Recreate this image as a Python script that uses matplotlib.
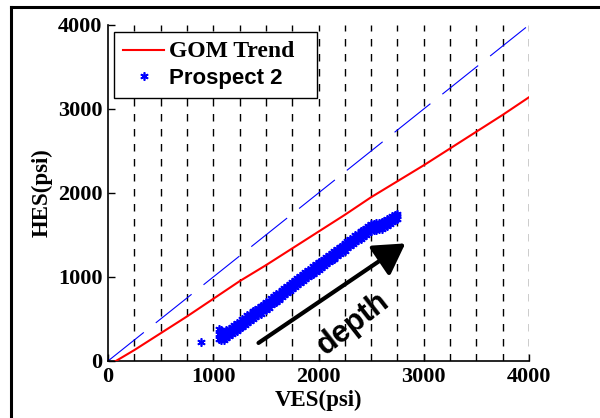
import matplotlib
matplotlib.use("Agg")
import matplotlib.pyplot as plt
from matplotlib.lines import Line2D

plt.rcParams['lines.scale_dashes'] = False

# ---- data ----
grid_x = [250, 500, 750, 1000, 1250, 1500, 1750, 2000, 2250, 2500, 2750, 3000, 3250, 3500, 3750, 4000]

ref_x = [0, 4000]
ref_y = [0, 4000]

gom_x = [75, 250, 500, 750, 1000, 1250, 1500, 1750, 2000, 2250, 2500, 2750, 3000, 3250, 3500, 3750, 4000]
gom_y = [0, 130, 330, 530, 740, 950, 1140, 1340, 1540, 1740, 1950, 2140, 2330, 2530, 2730, 2930, 3140]

p2_x = [1050, 1075, 1100, 1125, 1150, 1175, 1200, 1225, 1250, 1275, 1300, 1325, 1350, 1375, 1400, 1425,
        1450, 1475, 1500, 1525, 1550, 1575, 1600, 1625, 1650, 1675, 1700, 1725, 1750, 1775, 1800, 1825,
        1850, 1875, 1900, 1925, 1950, 1975, 2000, 2025, 2050, 2075, 2100, 2125, 2150, 2175, 2200, 2225,
        2250, 2275, 2300, 2325, 2350, 2375, 2400, 2425, 2450, 2475, 2500, 2525, 2550, 2575, 2600, 2625,
        2650, 2675, 2700, 2725, 2750]
p2_mid = [320, 310, 300, 320, 340, 362, 385, 408, 430, 452, 475, 498, 520, 542, 565, 588,
          610, 632, 655, 680, 705, 728, 750, 775, 800, 825, 850, 875, 900, 922, 945, 970,
          995, 1018, 1040, 1062, 1085, 1108, 1130, 1152, 1175, 1198, 1220, 1242, 1265, 1288, 1310, 1335,
          1360, 1385, 1410, 1432, 1455, 1478, 1500, 1522, 1545, 1568, 1590, 1596, 1600, 1605, 1610, 1630,
          1650, 1670, 1690, 1708, 1725]
p2_up = [380, 370, 350, 365, 385, 400, 430, 450, 470, 500, 515, 545, 560, 590, 605, 630,
         655, 672, 700, 720, 750, 770, 795, 815, 845, 865, 895, 915, 945, 960, 990, 1010,
         1040, 1055, 1085, 1100, 1130, 1150, 1175, 1190, 1220, 1240, 1265, 1280, 1310, 1330, 1355, 1375,
         1405, 1425, 1455, 1470, 1500, 1515, 1545, 1560, 1585, 1605, 1630, 1635, 1645, 1640, 1650, 1665,
         1690, 1705, 1725, 1740, 1755]
p2_lo = [260, 250, 245, 270, 295, 318, 340, 362, 388, 405, 432, 452, 478, 495, 522, 545,
         565, 590, 612, 635, 662, 685, 705, 730, 758, 780, 805, 832, 855, 880, 900, 928,
         950, 975, 995, 1020, 1040, 1065, 1085, 1110, 1130, 1155, 1175, 1200, 1220, 1245, 1268, 1292,
         1315, 1342, 1365, 1390, 1412, 1435, 1458, 1480, 1502, 1525, 1550, 1558, 1560, 1568, 1572, 1595,
         1612, 1632, 1655, 1675, 1695]
iso_x = [880]
iso_y = [230]

arrow_start = (1430, 215)
arrow_end = (2825, 1400)

fig = plt.figure(figsize=(6.0, 4.18), dpi=100)
ax = fig.add_axes([108/600, 1-361/418, 421/600, 336/418])

serif = 'Liberation Serif'
sans = 'Liberation Sans'

for gx in grid_x:
    ax.plot([gx, gx], [0, 4000], color='black', lw=1.0, dashes=(5.4, 5.4), zorder=1)

ax.plot(ref_x, ref_y, color='blue', lw=0.8, dashes=(33, 11), zorder=2)
gom_line, = ax.plot(gom_x, gom_y, color='red', lw=1.5, zorder=3, label='GOM Trend')

all_x = p2_x + p2_x + p2_x + iso_x
all_y = p2_up + p2_mid + p2_lo + iso_y
pts, = ax.plot(all_x, all_y, linestyle='none', marker=(6, 2, 0), color='blue', markersize=6,
               markeredgewidth=1.2, zorder=4, label='Prospect 2')

ax.annotate('', xy=arrow_end, xytext=arrow_start,
            arrowprops=dict(arrowstyle='-|>,head_length=0.85,head_width=0.5', color='black',
                            lw=3, mutation_scale=22, shrinkA=0, shrinkB=0))
ax.text(2330, 440, 'depth', rotation=38, ha='center', va='center',
        fontsize=22, fontweight='bold', family=sans)

ax.set_xlim(0, 4000)
ax.set_ylim(0, 4000)
ax.set_xticks([0, 1000, 2000, 3000, 4000])
ax.set_yticks([0, 1000, 2000, 3000, 4000])
for s in ['top', 'right']:
    ax.spines[s].set_visible(False)
for s in ['left', 'bottom']:
    ax.spines[s].set_linewidth(1.2)
ax.tick_params(direction='in', length=5, width=1, pad=4)
for lab in ax.get_xticklabels() + ax.get_yticklabels():
    lab.set_fontfamily(serif)
    lab.set_fontweight('bold')
    lab.set_fontsize(16)

ax.set_xlabel('VES(psi)', family=serif, fontweight='bold', fontsize=16.5, labelpad=2)
ax.set_ylabel('HES(psi)', family=serif, fontweight='bold', fontsize=16.5, labelpad=4)

leg_h = 63 / 336
leg = ax.legend(handles=[gom_line, pts], loc='upper left',
                bbox_to_anchor=(6/421, 329/336 - leg_h, 203/421, leg_h), mode='expand',
                fancybox=False, edgecolor='black', framealpha=1, fontsize=16,
                handlelength=1.85, handletextpad=0.2, borderpad=0.42, labelspacing=0.25,
                borderaxespad=0, markerscale=1.0)
leg.get_frame().set_linewidth(1.0)
texts = leg.get_texts()
texts[0].set_fontfamily(serif)
texts[0].set_fontweight('bold')
texts[0].set_fontsize(17)
texts[1].set_fontfamily(sans)
texts[1].set_fontweight('bold')

fig.add_artist(Line2D([11/600, 1.0], [1 - 7/418, 1 - 7/418], transform=fig.transFigure,
                      color='black', lw=2.2))
fig.add_artist(Line2D([11/600, 11/600], [0.0, 1 - 7/418], transform=fig.transFigure,
                      color='black', lw=2.2))

fig.savefig('out.png', dpi=100)
